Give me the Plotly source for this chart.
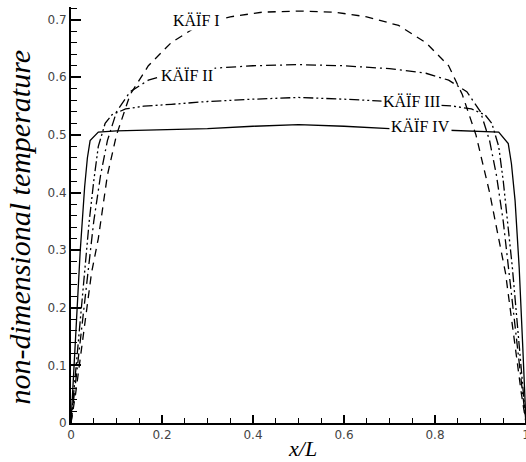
import plotly.graph_objects as go

# Case I (dashed)
x1 = [0, 0.01, 0.02, 0.03, 0.045, 0.06, 0.08, 0.10, 0.13, 0.17, 0.22, 0.28, 0.35, 0.42, 0.5,
      0.58, 0.65, 0.72, 0.78, 0.83, 0.86, 0.89, 0.92, 0.94, 0.955, 0.97, 0.98, 0.99, 1.0]
y1 = [0, 0.05, 0.11, 0.17, 0.26, 0.32, 0.43, 0.50, 0.57, 0.62, 0.66, 0.69, 0.705, 0.713, 0.715,
      0.713, 0.705, 0.69, 0.66, 0.62, 0.57, 0.50, 0.40, 0.32, 0.26, 0.17, 0.11, 0.05, 0]

# Case II (dash-dot)
x2 = [0, 0.01, 0.02, 0.03, 0.04, 0.05, 0.065, 0.08, 0.10, 0.13, 0.17, 0.22, 0.3, 0.4, 0.5,
      0.6, 0.7, 0.78, 0.83, 0.87, 0.90, 0.92, 0.935, 0.95, 0.96, 0.97, 0.98, 0.99, 1.0]
y2 = [0, 0.07, 0.14, 0.21, 0.28, 0.35, 0.43, 0.49, 0.54, 0.575, 0.595, 0.607, 0.615, 0.62, 0.622,
      0.62, 0.615, 0.607, 0.595, 0.575, 0.54, 0.49, 0.43, 0.35, 0.28, 0.21, 0.14, 0.07, 0]

# Case III (dash-dot-dot)
x3 = [0, 0.01, 0.02, 0.03, 0.04, 0.05, 0.06, 0.075, 0.09, 0.12, 0.16, 0.22, 0.3, 0.4, 0.5,
      0.6, 0.7, 0.78, 0.84, 0.88, 0.91, 0.925, 0.94, 0.95, 0.96, 0.97, 0.98, 0.99, 1.0]
y3 = [0, 0.09, 0.18, 0.27, 0.35, 0.42, 0.48, 0.52, 0.535, 0.545, 0.55, 0.553, 0.558, 0.562, 0.565,
      0.562, 0.558, 0.553, 0.55, 0.545, 0.535, 0.52, 0.48, 0.42, 0.35, 0.27, 0.18, 0.09, 0]

# Case IV (solid)
x4 = [0, 0.005, 0.01, 0.02, 0.03, 0.036, 0.042, 0.06, 0.1, 0.2, 0.3, 0.4, 0.5,
      0.6, 0.7, 0.8, 0.9, 0.94, 0.961, 0.968, 0.976, 0.985, 0.993, 1.0]
y4 = [0, 0.07, 0.15, 0.295, 0.41, 0.46, 0.49, 0.505, 0.507, 0.509, 0.511, 0.515, 0.518,
      0.515, 0.511, 0.509, 0.507, 0.505, 0.485, 0.45, 0.386, 0.27, 0.13, 0]

labels = ["KÄÏF I", "KÄÏF II", "KÄÏF III", "KÄÏF IV"]
label_x = [0.275, 0.255, 0.748, 0.768]
label_y = [0.698, 0.603, 0.558, 0.514]

x_ticks = [0, 0.2, 0.4, 0.6, 0.8, 1.0]
x_ticktext = ["0", "0.2", "0.4", "0.6", "0.8", "1"]
y_ticks = [0, 0.1, 0.2, 0.3, 0.4, 0.5, 0.6, 0.7]
y_ticktext = ["0", "0.1", "0.2", "0.3", "0.4", "0.5", "0.6", "0.7"]

series = [(x1, y1, "8px,6px"), (x2, y2, "10px,4px,2px,4px"),
          (x3, y3, "10px,3px,2px,3px,2px,3px"), (x4, y4, "solid")]

fig = go.Figure()
for (xs, ys, dash), name in zip(series, labels):
    fig.add_trace(go.Scatter(x=xs, y=ys, mode="lines", name=name,
                             line=dict(color="black", width=1.3, dash=dash),
                             showlegend=False, cliponaxis=True))

for t, lx, ly in zip(labels, label_x, label_y):
    fig.add_annotation(x=lx, y=ly, xref="x", yref="y", text=t, showarrow=False,
                       font=dict(family="Liberation Serif", size=16, color="black"),
                       bgcolor="white", borderpad=1)

fig.add_annotation(x=-0.114, y=0.47, xref="paper", yref="paper",
                   text="<i>non-dimensional temperature</i>", textangle=-90,
                   showarrow=False, xanchor="center", yanchor="middle",
                   font=dict(family="Liberation Serif", size=30, color="black"))
fig.add_annotation(x=0.508, y=-0.062, xref="paper", yref="paper",
                   text="<i>x/L</i>", showarrow=False, xanchor="center", yanchor="middle",
                   font=dict(family="Liberation Serif", size=22, color="black"))

tickfont = dict(family="DejaVu Sans", size=12, color="#444")
fig.update_xaxes(range=[0, 1.0], showgrid=False, zeroline=False,
                 showline=True, linecolor="black", linewidth=2,
                 ticks="inside", ticklen=8, tickwidth=1.5, tickcolor="black",
                 tickvals=x_ticks, ticktext=x_ticktext, ticklabeloverflow="allow",
                 minor=dict(ticks="inside", ticklen=5, tickwidth=1.2, tickcolor="black", dtick=0.05),
                 tickfont=tickfont, automargin=False)
fig.update_yaxes(range=[0, 0.722], showgrid=False, zeroline=False,
                 showline=True, linecolor="black", linewidth=2,
                 ticks="inside", ticklen=10, tickwidth=1.5, tickcolor="black",
                 tickvals=y_ticks, ticktext=y_ticktext,
                 minor=dict(ticks="inside", ticklen=6, tickwidth=1.2, tickcolor="black", dtick=0.02),
                 tickfont=tickfont, automargin=False)

fig.update_layout(width=526, height=462, margin=dict(l=71, r=0, t=7, b=39),
                  paper_bgcolor="white", plot_bgcolor="white")

fig.write_html("out.html")
